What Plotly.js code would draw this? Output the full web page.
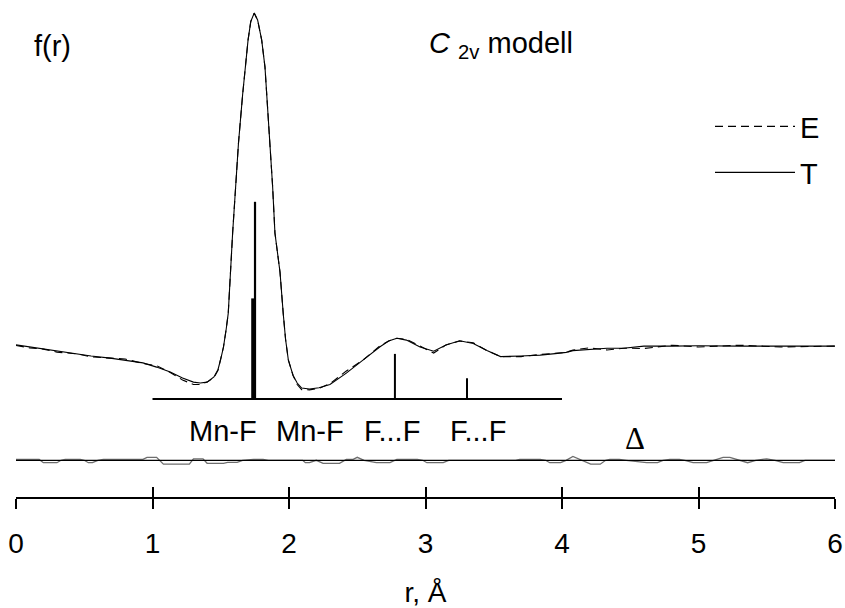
<!DOCTYPE html>
<html>
<head>
<meta charset="utf-8">
<script src="https://cdn.plot.ly/plotly-3.0.1.min.js"></script>
<style>html,body{margin:0;padding:0;background:#fff;}#chart{width:845px;height:608px;}</style>
</head>
<body>
<div id="chart"></div>
<script>
// ---- data ----
const rCurve = [0.00,0.10,0.20,0.30,0.45,0.55,0.69,0.80,0.93,1.03,1.13,1.22,1.30,1.35,1.40,1.45,1.48,1.50,1.52,1.54,1.555,1.587,1.63,1.66,1.68,1.70,1.72,1.745,1.77,1.80,1.824,1.84,1.861,1.88,1.897,1.934,1.958,1.975,1.995,2.03,2.06,2.093,2.15,2.22,2.30,2.42,2.544,2.667,2.73,2.79,2.86,2.96,3.06,3.15,3.25,3.35,3.45,3.55,3.70,3.84,3.95,4.03,4.08,4.20,4.33,4.45,4.60,4.81,5.00,5.30,5.60,6.00];
const fT = [0.07,0.00,-0.07,-0.13,-0.23,-0.30,-0.37,-0.45,-0.53,-0.67,-0.83,-1.03,-1.17,-1.20,-1.17,-1.00,-0.75,-0.40,0.00,0.60,1.13,3.80,6.80,8.40,9.33,10.23,10.85,11.13,10.90,10.23,9.33,8.25,6.80,5.35,3.80,2.50,1.10,0.25,-0.43,-0.95,-1.20,-1.37,-1.40,-1.36,-1.25,-0.87,-0.43,0.01,0.20,0.29,0.23,0.00,-0.14,0.07,0.21,0.12,-0.12,-0.32,-0.30,-0.27,-0.22,-0.18,-0.12,-0.07,-0.04,-0.04,0.03,0.03,0.04,0.03,0.03,0.03];
const fE = [0.05,-0.03,-0.07,-0.17,-0.23,-0.33,-0.37,-0.40,-0.55,-0.62,-0.85,-1.10,-1.25,-1.25,-1.17,-1.02,-0.78,-0.40,0.00,0.60,1.13,3.80,6.80,8.40,9.33,10.23,10.85,11.13,10.90,10.23,9.33,8.25,6.80,5.35,3.80,2.50,1.10,0.25,-0.43,-0.95,-1.25,-1.42,-1.43,-1.38,-1.22,-0.80,-0.43,0.04,0.20,0.29,0.26,0.02,-0.20,0.07,0.20,0.14,-0.12,-0.32,-0.32,-0.25,-0.22,-0.18,-0.10,-0.03,-0.10,-0.04,-0.05,0.06,0.00,0.06,0.00,0.03];

const rDelta = [0.00,0.17,0.20,0.30,0.33,0.36,0.47,0.50,0.53,0.56,0.60,0.64,0.93,0.96,1.03,1.08,1.27,1.30,1.37,1.40,1.52,1.55,1.62,1.66,1.74,1.81,1.85,2.10,2.12,2.15,2.20,2.25,2.37,2.42,2.47,2.50,2.55,2.64,2.74,2.79,2.94,2.98,3.01,3.13,3.17,3.66,3.69,3.84,3.88,3.91,3.99,4.03,4.08,4.14,4.21,4.28,4.32,4.35,4.42,4.47,4.62,4.70,4.74,4.79,4.86,4.90,4.96,5.06,5.12,5.18,5.23,5.30,5.36,5.42,5.50,5.56,5.62,5.74,5.78,6.00];
const dDelta = [0.03,0.03,-0.08,-0.08,0,0.03,0.03,0,-0.08,-0.08,0,0.03,0.03,0.10,0.10,-0.13,-0.13,0.05,0.05,-0.10,-0.10,-0.07,-0.07,0,0.03,0.03,0,0,-0.08,-0.08,0,-0.10,-0.10,0.03,0.03,0.10,0,-0.08,-0.08,0.03,0.03,0,-0.08,-0.08,0,0,0.03,0.03,0,-0.08,-0.08,0,0.13,0,-0.13,-0.13,0,0.03,0.03,0,-0.08,-0.08,0,0.03,0.03,0,-0.08,-0.08,0,0.10,0.10,0,-0.08,0,0.05,0,-0.08,-0.08,0,0];

const bondR = [1.736, 1.751, 2.776, 3.304];
const bondTop = [1.62, 4.84, -0.23, -1.04];
const bondWidth = [3.5, 2.2, 2, 2];
const bondBase = -1.73;
const bondRange = [1, 4];
const bondLabels = ['Mn-F', 'Mn-F', 'F...F', 'F...F'];
const bondLabelR = [1.513, 2.154, 2.757, 3.385];
const deltaBase = -3.777;
const xTicks = [0, 1, 2, 3, 4, 5, 6];

// ---- traces ----
const traces = [];
traces.push({x: rCurve, y: fE, type: 'scatter', mode: 'lines', name: 'E',
  line: {color: '#000', width: 1.1, dash: '8px,5px'}, legend: 'legend'});
traces.push({x: rCurve, y: fT, type: 'scatter', mode: 'lines', name: 'T',
  line: {color: '#000', width: 1.1}, legend: 'legend2'});
// bond baseline
traces.push({x: bondRange, y: [bondBase, bondBase], type: 'scatter', mode: 'lines',
  line: {color: '#000', width: 2}, showlegend: false});
// bond sticks
bondR.forEach((r, i) => {
  traces.push({x: [r, r], y: [bondBase, bondTop[i]], type: 'scatter', mode: 'lines',
    line: {color: '#000', width: bondWidth[i]}, showlegend: false});
});
// difference curve
traces.push({x: rDelta, y: dDelta.map(d => deltaBase + d), type: 'scatter', mode: 'lines',
  line: {color: '#6e6e6e', width: 1.3}, showlegend: false});
traces.push({x: [xTicks[0], xTicks[xTicks.length - 1]], y: [deltaBase, deltaBase], type: 'scatter', mode: 'lines',
  line: {color: '#000', width: 1.2}, showlegend: false});
// dummy trace for second axis (inside ticks)
traces.push({x: [0, 6], y: [-10, -10], xaxis: 'x2', type: 'scatter', mode: 'lines',
  line: {color: 'rgba(0,0,0,0)'}, showlegend: false, hoverinfo: 'skip'});

const F = 'Arial, "Liberation Sans", sans-serif';
const W = 845, H = 608, ML = 16, MR = 10, MT = 0, MB = 111;
const PW = W - ML - MR, PH = H - MT - MB;
const px = v => (v - ML) / PW;
const py = v => 1 - (v - MT) / PH;

const annotations = [
  {text: 'f(r)', xref: 'paper', yref: 'paper', x: px(52), y: py(46), xanchor: 'center', yanchor: 'middle',
    showarrow: false, font: {family: F, size: 29, color: '#000'}},
  {text: '<i>C</i> <sub>2v</sub> modell', xref: 'paper', yref: 'paper', x: px(427), y: py(45), xanchor: 'left', yanchor: 'middle',
    showarrow: false, font: {family: F, size: 29, color: '#000'}},
  {text: 'Δ', xref: 'paper', yref: 'paper', x: px(635), y: py(438), xanchor: 'center', yanchor: 'middle',
    showarrow: false, font: {family: '"Liberation Serif", "Times New Roman", serif', size: 31, color: '#000'}}
];
bondLabels.forEach((t, i) => {
  annotations.push({text: t, xref: 'x', yref: 'paper', x: bondLabelR[i], y: py(431), xanchor: 'center', yanchor: 'middle',
    showarrow: false, font: {family: F, size: 29, color: '#000'}});
});

const layout = {
  width: W, height: H,
  margin: {l: ML, r: MR, t: MT, b: MB, pad: 0},
  paper_bgcolor: '#fff', plot_bgcolor: '#fff',
  showlegend: true,
  xaxis: {range: [0, 6], tickvals: xTicks, ticktext: xTicks.map(String), ticks: 'outside', ticklen: 10, tickwidth: 2,
    tickcolor: '#000', showline: true, linecolor: '#000', linewidth: 2, showgrid: false, zeroline: false,
    tickfont: {family: F, size: 28, color: '#000'}, ticklabelstandoff: 10,
    title: {text: 'r, Å', font: {family: F, size: 28, color: '#000'}, standoff: 30}, automargin: false},
  xaxis2: {range: [0, 6], overlaying: 'x', anchor: 'y', side: 'bottom', tickvals: xTicks, ticks: 'inside', ticklen: 10,
    tickwidth: 2, tickcolor: '#000', showticklabels: false, showline: false, showgrid: false, zeroline: false},
  yaxis: {range: [-5.0, 11.567], visible: false, showgrid: false, zeroline: false, fixedrange: true},
  legend: {x: px(710), y: py(101), xanchor: 'left', yanchor: 'top', bgcolor: 'rgba(0,0,0,0)', borderwidth: 0,
    font: {family: F, size: 29, color: '#000'}, itemwidth: 80},
  legend2: {x: px(710), y: py(147), xanchor: 'left', yanchor: 'top', bgcolor: 'rgba(0,0,0,0)', borderwidth: 0,
    font: {family: F, size: 29, color: '#000'}, itemwidth: 80},
  annotations: annotations
};

Plotly.newPlot('chart', traces, layout, {staticPlot: true, displayModeBar: false});
</script>
</body>
</html>
